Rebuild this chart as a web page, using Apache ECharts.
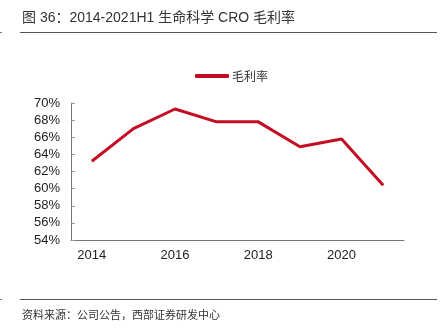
<!DOCTYPE html>
<html>
<head>
<meta charset="utf-8">
<script src="https://cdn.jsdelivr.net/npm/echarts@6/dist/echarts.min.js"></script>
<style>
  html, body { margin: 0; padding: 0; background: #fff; }
  #chart { width: 443px; height: 335px; }
</style>
</head>
<body>
<div id="chart"></div>
<script>
// Gross margin of the life-science CRO segment, 2014 to 2021H1 (%)
const years = ['2014', '2015', '2016', '2017', '2018', '2019', '2020', '2021H1'];
const grossMargin = [63.2, 67.0, 69.3, 67.8, 67.8, 64.9, 65.8, 60.4];
const seriesName = '毛利率';
const titleText = '图 36：2014-2021H1 生命科学 CRO 毛利率';
const sourceText = '资料来源：公司公告，西部证券研发中心';

const latin = '"Liberation Sans", Arial, "Noto Sans CJK SC", sans-serif';
const cjk = '"Noto Sans CJK SC", "Liberation Sans", sans-serif';

const chart = echarts.init(document.getElementById('chart'), null, { renderer: 'canvas' });

chart.setOption({
  animation: false,
  backgroundColor: '#ffffff',
  title: [
    {
      text: titleText,
      left: 17,
      top: 6,
      textStyle: { fontSize: 14, fontWeight: 'normal', color: '#333', fontFamily: latin }
    },
    {
      text: sourceText,
      left: 17,
      top: 304,
      textStyle: { fontSize: 11, fontWeight: 'normal', color: '#333', fontFamily: cjk }
    }
  ],
  graphic: [
    { type: 'line', shape: { x1: 20, y1: 32.5, x2: 437, y2: 32.5 }, style: { stroke: '#555', lineWidth: 1 } },
    { type: 'line', shape: { x1: 0, y1: 32.5, x2: 2, y2: 32.5 }, style: { stroke: '#777', lineWidth: 1 } },
    { type: 'line', shape: { x1: 20, y1: 299.5, x2: 437, y2: 299.5 }, style: { stroke: '#555', lineWidth: 1 } },
    { type: 'line', shape: { x1: 0, y1: 299.5, x2: 2, y2: 299.5 }, style: { stroke: '#777', lineWidth: 1 } }
  ],
  legend: {
    data: [seriesName],
    left: 190,
    top: 65,
    icon: 'roundRect',
    itemWidth: 34,
    itemHeight: 4,
    itemGap: 4,
    textStyle: { fontSize: 12, color: '#333', fontFamily: cjk, padding: [0, 0, 0, -2] }
  },
  grid: { left: 71, right: 39, top: 103, bottom: 95, containLabel: false },
  xAxis: {
    type: 'category',
    data: years,
    boundaryGap: true,
    axisLine: { lineStyle: { color: '#777', width: 1 } },
    axisTick: { inside: true, length: 4, lineStyle: { color: '#999' } },
    axisLabel: { interval: 1, color: '#222', fontSize: 13, fontFamily: latin, margin: 9 },
    splitLine: { show: false }
  },
  yAxis: {
    type: 'value',
    min: 54,
    max: 70,
    interval: 2,
    axisLine: { show: true, lineStyle: { color: '#777', width: 1 } },
    axisTick: { show: true, inside: true, length: 4, lineStyle: { color: '#999' } },
    axisLabel: { formatter: '{value}%', color: '#222', fontSize: 13, fontFamily: latin, margin: 11 },
    splitLine: { show: false }
  },
  series: [
    {
      name: seriesName,
      type: 'line',
      data: grossMargin,
      symbol: 'none',
      lineStyle: { color: '#c30d23', width: 3 },
      itemStyle: { color: '#c30d23' }
    }
  ]
});
</script>
</body>
</html>
